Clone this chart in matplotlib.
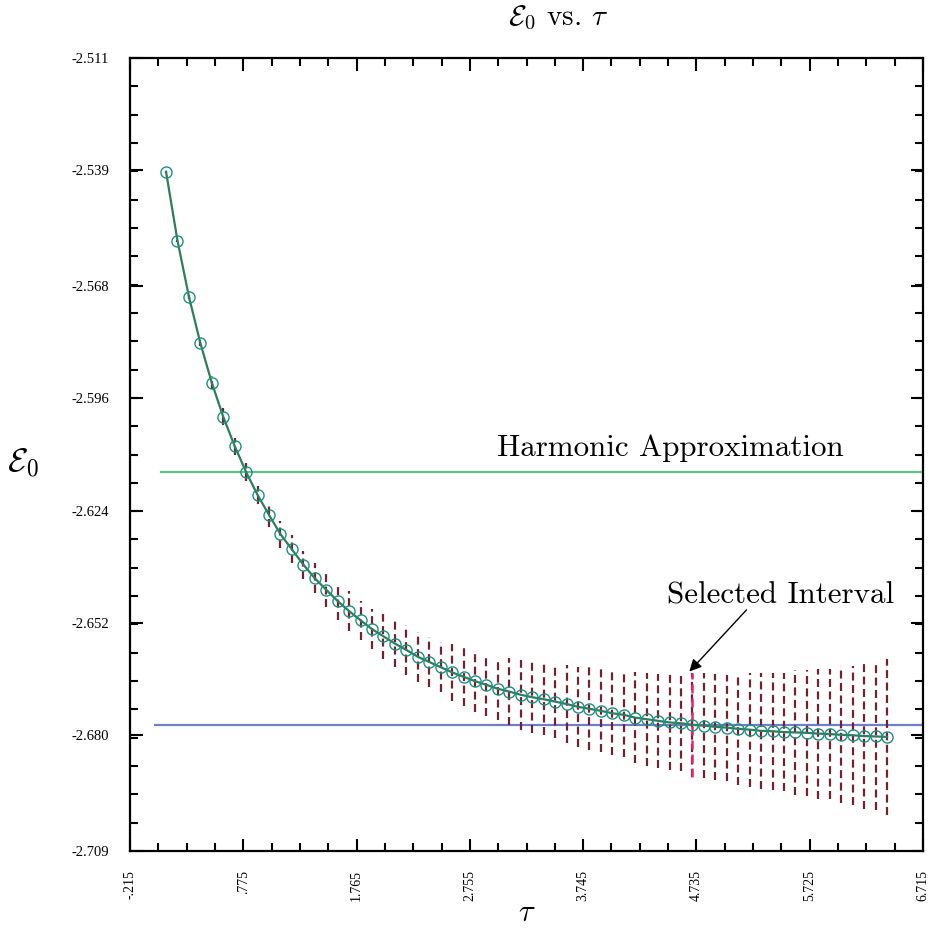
import numpy as np
import matplotlib
matplotlib.use("Agg")
import matplotlib.pyplot as plt

plt.rcParams["mathtext.fontset"] = "cm"

# imaginary time step values
tau = np.round(np.arange(1, 65) * 0.1, 1)

# ground state energy estimates
energia = [
    -2.5394, -2.5566, -2.5706, -2.5822, -2.5921, -2.6006, -2.6079, -2.6144,
    -2.6201, -2.6251, -2.6299, -2.6337, -2.6375, -2.6409, -2.6438, -2.6466,
    -2.6491, -2.6514, -2.6536, -2.6554, -2.6572, -2.6588, -2.6605, -2.6618,
    -2.6631, -2.6644, -2.6655, -2.6666, -2.6675, -2.6685, -2.6692, -2.6700,
    -2.6706, -2.6711, -2.6717, -2.6723, -2.6730, -2.6735, -2.6740, -2.6746,
    -2.6750, -2.6757, -2.6761, -2.6765, -2.6769, -2.6771, -2.6775, -2.6777,
    -2.6780, -2.6782, -2.6785, -2.6787, -2.6790, -2.6791, -2.6793, -2.6794,
    -2.6795, -2.6797, -2.6798, -2.6800, -2.6801, -2.6803, -2.6804, -2.6805,
]

# statistical errors
chyba = [
    0.00025, 0.00025, 0.0005, 0.00075, 0.0016, 0.0021, 0.0021, 0.0022,
    0.0023, 0.0030, 0.0034, 0.0035, 0.0035, 0.0038, 0.0044, 0.0046,
    0.0049, 0.0049, 0.0049, 0.0056, 0.0058, 0.0062, 0.0063, 0.0063,
    0.0063, 0.0072, 0.0074, 0.0077, 0.0077, 0.0077, 0.0084, 0.0088,
    0.0090, 0.0090, 0.0092, 0.0098, 0.0100, 0.0104, 0.0104, 0.0105,
    0.0106, 0.0114, 0.0116, 0.0117, 0.0120, 0.0119, 0.0129, 0.0131,
    0.0133, 0.0132, 0.0139, 0.0142, 0.0145, 0.0146, 0.0148, 0.0155,
    0.0158, 0.0162, 0.0162, 0.0171, 0.0173, 0.0182, 0.0184, 0.0194,
]

vybrany_tau = 4.7
harmonicka_energia = -2.6144
harmonicka_od = 0.06
vybrana_energia = -2.6775
vybrana_od = 0.0

x_ticks = [-0.215, 0.775, 1.765, 2.755, 3.745, 4.735, 5.725, 6.715]
x_tick_labels = ["-.215", ".775", "1.765", "2.755", "3.745", "4.735", "5.725", "6.715"]
y_ticks = [-2.511, -2.539, -2.568, -2.596, -2.624, -2.652, -2.680, -2.709]
y_tick_labels = ["-2.511", "-2.539", "-2.568", "-2.596", "-2.624", "-2.652", "-2.680", "-2.709"]

energia = np.array(energia)
chyba = np.array(chyba)

fig = plt.figure(figsize=(9.33, 9.30), dpi=100)
ax = fig.add_axes([130 / 933, 79 / 930, 793 / 933, 793 / 930])

x_min, x_max = x_ticks[0], x_ticks[-1]
y_min, y_max = y_ticks[-1], y_ticks[0]
ax.set_xlim(x_min, x_max)
ax.set_ylim(y_min, y_max)

# error bars
ax.vlines(tau, energia - chyba, energia + chyba, colors="#6e2232",
          linestyles=(0, (3.6, 2.0)), lw=1.6, zorder=2)
i_sel = int(np.argmin(np.abs(tau - vybrany_tau)))
ax.vlines(tau[i_sel], energia[i_sel] - chyba[i_sel], energia[i_sel] + chyba[i_sel],
          colors="#e8256e", linestyles=(0, (3.6, 2.0)), lw=1.8, zorder=3)

# reference lines
ax.plot([harmonicka_od, x_max], [harmonicka_energia, harmonicka_energia],
        color="#5cc38a", lw=1.6, zorder=1)
ax.plot([vybrana_od, x_max], [vybrana_energia, vybrana_energia],
        color="#7080c8", lw=1.6, zorder=1)

ax.plot(tau, energia, color="#2f7d5a", lw=1.6, zorder=4)
ax.plot(tau, energia, "o", mfc="none", mec="#1f8f80", ms=8, mew=1.0, zorder=5)

ax.text(2.992, -2.6104, "Harmonic Approximation", fontsize=22.3,
        family="cmr10", ha="left", va="baseline")
ax.annotate("Selected Interval", xy=(4.673, -2.6642), xytext=(4.478, -2.6473),
            fontsize=22.3, family="cmr10", ha="left", va="baseline",
            arrowprops=dict(arrowstyle="-|>", color="black", lw=1.0,
                            mutation_scale=18, shrinkA=0, shrinkB=0,
                            patchA=None, relpos=(0.35, 0.0)))

# ticks
ax.set_xticks(x_ticks)
ax.set_xticklabels(x_tick_labels, rotation=90, family="Liberation Serif", fontsize=10)
ax.set_yticks(y_ticks)
ax.set_yticklabels(y_tick_labels, family="Liberation Serif", fontsize=10.5)
ax.set_xticks(np.linspace(x_min, x_max, 29), minor=True)
ax.set_yticks(np.linspace(y_min, y_max, 29), minor=True)
ax.tick_params(which="both", direction="in", top=True, right=True, width=1.5, color="black")
ax.tick_params(which="major", length=9)
ax.tick_params(which="minor", length=6)
ax.tick_params(axis="x", which="major", pad=14)
ax.tick_params(axis="y", which="major", pad=15)
for s in ax.spines.values():
    s.set_linewidth(1.6)

ax.set_xlabel(r"$\tau$", fontsize=22)
ax.xaxis.set_label_coords(0.5, -0.077)
ax.xaxis.label.set_va("center")
ax.set_ylabel(r"$\mathcal{E}_0$", fontsize=24, rotation=0)
ax.yaxis.set_label_coords(-0.135, 0.49)
ax.yaxis.label.set_va("center")

fig.text(558 / 933, 1 - 18 / 930, r"$\mathcal{E}_0$ vs. $\tau$", fontsize=21,
         family="cmr10", ha="center", va="center")

fig.savefig("out.png", dpi=100)
